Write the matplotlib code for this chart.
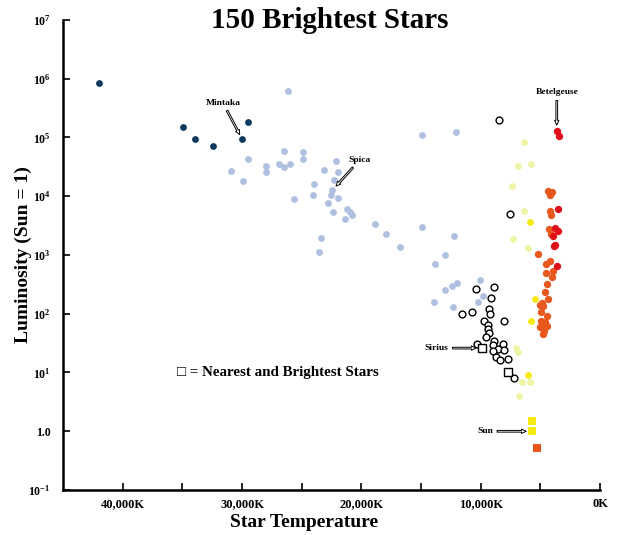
import numpy as np
import matplotlib
matplotlib.use('Agg')
import matplotlib.pyplot as plt
from matplotlib.ticker import FixedLocator, FixedFormatter

plt.rcParams['font.family'] = ['Liberation Serif', 'DejaVu Serif']
plt.rcParams['font.weight'] = 'bold'
plt.rcParams['mathtext.fontset'] = 'custom'
plt.rcParams['mathtext.rm'] = 'Liberation Serif'
plt.rcParams['mathtext.bf'] = 'Liberation Serif:bold'

# star groups: temperature (K) and luminosity (Sun = 1)
navy_temp = [42000, 34950, 33970, 32460, 29980, 29500]
navy_lum = [8.3e5, 1.52e5, 9.4e4, 7.1e4, 9.2e4, 1.86e5]

blue_temp = [26130, 29500, 30930, 29900, 27970, 27970, 26930, 26460, 26460, 25980,
             24920, 24920, 25650, 23970, 24060, 23110, 22150, 21960, 22320, 22440,
             22570, 21960, 22770, 22380, 21180, 20980, 20760, 21370, 23360, 23580,
             18860, 17970, 16760, 14950, 12240, 13020, 13830, 11990, 12430, 13020,
             13910, 12300, 10060, 10200, 14900, 12070, 9780]
blue_lum = [6.1e5, 4.3e4, 2.7e4, 1.8e4, 3.2e4, 2.6e4, 3.5e4, 5.8e4, 3.1e4, 3.5e4,
            5.6e4, 4.3e4, 8.9e3, 1.58e4, 1.05e4, 2.8e4, 4.0e4, 2.6e4, 1.9e4, 1.26e4,
            1.04e4, 9.3e3, 7.6e3, 5.3e3, 6.0e3, 5.4e3, 4.7e3, 4.1e3, 1.95e3, 1.14e3,
            3.4e3, 2.3e3, 1.38e3, 3.0e3, 2.1e3, 1.0e3, 690, 330, 300, 250,
            160, 130, 380, 156, 1.1e5, 1.23e5, 200]

white_temp = [8470, 7520, 10390, 8860, 9140, 9280, 9220, 11570, 10750, 9700,
              8020, 9360, 9410, 9280, 9560, 10340, 8860, 8990, 8100, 8520,
              8990, 8020, 8720, 8380, 7740, 7240]
white_lum = [2.0e5, 5.0e3, 260, 290, 185, 120, 100, 100, 108, 75,
             74, 64, 56, 47, 40, 30, 34, 29, 30, 25,
             23, 24, 18, 16, 17, 8.2]

pale_temp = [6370, 6870, 5810, 7380, 6350, 7270, 6010, 7070, 6900, 6560, 5870, 6810]
pale_lum = [8.5e4, 3.3e4, 3.5e4, 1.5e4, 5.5e3, 1.9e3, 1.3e3, 26, 22, 6.8, 6.8, 4.0]

yellow_temp = [5840, 5450, 5780, 6060]
yellow_lum = [3.7e3, 180, 75, 9.1]

orange_temp = [4330, 4000, 4190, 4190, 4130, 4250, 4130, 5170, 4190, 4530,
               3910, 4530, 4020, 4470, 4610, 4330, 4890, 5030, 4750, 4970,
               4470, 4970, 4610, 4470, 4800, 5030, 4690, 4750]
orange_lum = [1.24e4, 1.17e4, 1.05e4, 5.6e3, 4.7e3, 2.8e3, 2.3e3, 1.04e3, 790, 700,
              540, 500, 420, 320, 230, 180, 155, 140, 135, 105,
              92, 76, 72, 62, 62, 59, 51, 45]

red_temp = [3630, 3410, 3490, 3770, 3490, 3910, 3770, 3830, 3630]
red_lum = [1.3e5, 1.05e5, 6.0e3, 2.9e3, 2.6e3, 2.1e3, 1.5e3, 1.4e3, 640]

# nearest stars (squares)
near_white_temp = [9920, 7690]
near_white_lum = [26, 10]
near_yellow_temp = [5720, 5720]
near_yellow_lum = [1.5, 1.0]
near_orange_temp = [5250]
near_orange_lum = [0.51]

x_ticks = [40000, 30000, 20000, 10000, 0]
x_labels = ['40,000K', '30,000K', '20,000K', '10,000K', '0K']
y_ticks = [1e-1, 1, 1e1, 1e2, 1e3, 1e4, 1e5, 1e6, 1e7]
y_labels = [r'$\mathbf{10^{-1}}$', '1.0', r'$\mathbf{10^{1}}$', r'$\mathbf{10^{2}}$',
            r'$\mathbf{10^{3}}$', r'$\mathbf{10^{4}}$', r'$\mathbf{10^{5}}$',
            r'$\mathbf{10^{6}}$', r'$\mathbf{10^{7}}$']

fig = plt.figure(figsize=(6.18, 5.35), dpi=100)
ax = fig.add_axes([0.102, 0.084, 0.869, 0.879])

s = 24
ax.scatter(blue_temp, blue_lum, s=s, c='#aebfe0', linewidths=0, zorder=2)
ax.scatter(navy_temp, navy_lum, s=s, c='#0c3a5e', linewidths=0, zorder=2)
ax.scatter(white_temp, white_lum, s=24, facecolors='white', edgecolors='black',
           linewidths=1.0, zorder=3)
ax.scatter(pale_temp, pale_lum, s=s, c='#eef4a4', linewidths=0, zorder=2)
ax.scatter(yellow_temp, yellow_lum, s=s, c='#f6ea12', linewidths=0, zorder=2)
ax.scatter(orange_temp, orange_lum, s=28, c='#e8581e', linewidths=0, zorder=2)
ax.scatter(red_temp, red_lum, s=28, c='#e0101a', linewidths=0, zorder=2)
ax.scatter(near_white_temp, near_white_lum, s=28, marker='s', facecolors='white',
           edgecolors='black', linewidths=1.0, zorder=4)
ax.scatter(near_yellow_temp, near_yellow_lum, s=28, marker='s', c='#f6ea12',
           linewidths=0, zorder=4)
ax.scatter(near_orange_temp, near_orange_lum, s=28, marker='s', c='#e8581e',
           linewidths=0, zorder=4)

ax.set_yscale('log')
ax.set_xlim(45000, 0)
ax.set_ylim(1e-1, 1e7)

ax.xaxis.set_major_locator(FixedLocator(x_ticks))
ax.xaxis.set_major_formatter(FixedFormatter(x_labels))
ax.xaxis.set_minor_locator(FixedLocator([35000, 25000, 15000, 5000]))
ax.yaxis.set_major_locator(FixedLocator(y_ticks))
ax.yaxis.set_major_formatter(FixedFormatter(y_labels))
ax.yaxis.set_minor_locator(FixedLocator([]))

ax.tick_params(axis='x', which='both', direction='in', length=5, width=1.2,
               pad=6, labelsize=9)
ax.tick_params(axis='y', direction='in', length=5, width=1.2, pad=9, labelsize=8.5)

for side in ['top', 'right']:
    ax.spines[side].set_visible(False)
for side in ['left', 'bottom']:
    ax.spines[side].set_linewidth(1.8)

ax.set_xlabel('Star Temperature', fontsize=14, fontweight='bold')
ax.xaxis.set_label_coords(0.449, -0.05)
ax.set_ylabel('Luminosity (Sun = 1)', fontsize=14, fontweight='bold')
ax.yaxis.set_label_coords(-0.058, 0.5)

fig.text(0.534, 0.962, '150 Brightest Stars', ha='center', va='center',
         fontsize=21, fontweight='bold')

arrow = dict(arrowstyle='simple,head_width=0.45,head_length=0.5,tail_width=0.18',
             fc='white', ec='black', lw=0.7, shrinkA=1, shrinkB=4)

ax.annotate('Mintaka', xy=(navy_temp[4], navy_lum[4]), xytext=(-14, 26.5),
            textcoords='offset points', ha='center', va='center', fontsize=6.8,
            arrowprops=arrow)
ax.annotate('Spica', xy=(blue_temp[19], blue_lum[19]), xytext=(20, 22),
            textcoords='offset points', ha='center', va='center', fontsize=6.8,
            arrowprops=arrow)
ax.annotate('Betelgeuse', xy=(red_temp[0], red_lum[0]), xytext=(0, 27.6),
            textcoords='offset points', ha='center', va='center', fontsize=6.8,
            arrowprops=arrow)
ax.annotate('Sirius', xy=(near_white_temp[0], near_white_lum[0]), xytext=(-24, 0),
            textcoords='offset points', ha='right', va='center', fontsize=6.8,
            arrowprops=arrow)
ax.annotate('Sun', xy=(near_yellow_temp[1], near_yellow_lum[1]), xytext=(-28, 0),
            textcoords='offset points', ha='right', va='center', fontsize=6.8,
            arrowprops=arrow)

ax.text(0.212, 0.249, '\u25a1 = Nearest and Brightest Stars', transform=ax.transAxes,
        ha='left', va='center', fontsize=10.8, fontweight='bold')

fig.savefig('out.png', dpi=100)
